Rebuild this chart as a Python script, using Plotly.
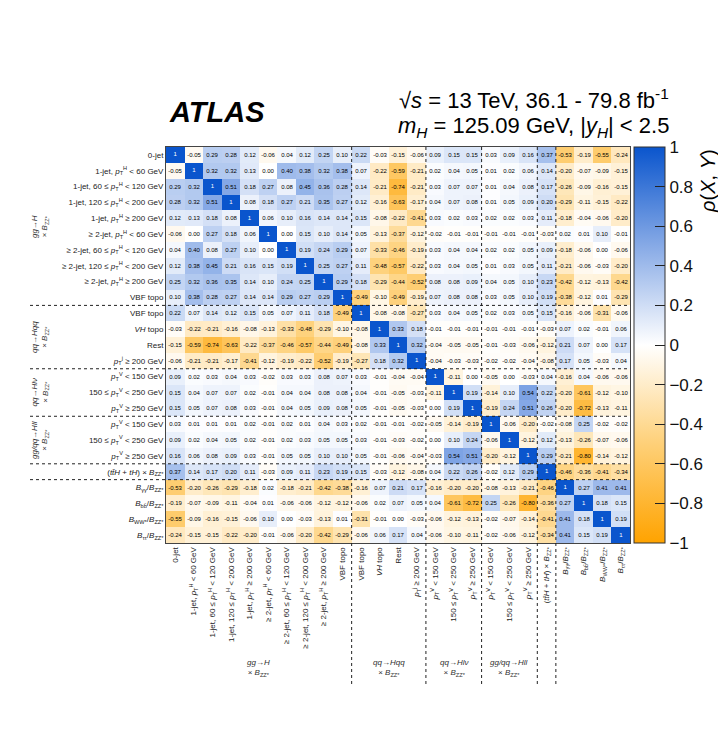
import plotly.graph_objects as go

pt = "<i>p</i><sub>T</sub>"
Bzz = "<i>B</i><sub>ZZ*</sub>"
labels = [
    "0-jet",
    f"1-jet, {pt}<sup>H</sup> < 60 GeV",
    f"1-jet, 60 ≤ {pt}<sup>H</sup> < 120 GeV",
    f"1-jet, 120 ≤ {pt}<sup>H</sup> < 200 GeV",
    f"1-jet, {pt}<sup>H</sup> ≥ 200 GeV",
    f"≥ 2-jet, {pt}<sup>H</sup> < 60 GeV",
    f"≥ 2-jet, 60 ≤ {pt}<sup>H</sup> < 120 GeV",
    f"≥ 2-jet, 120 ≤ {pt}<sup>H</sup> < 200 GeV",
    f"≥ 2-jet, {pt}<sup>H</sup> ≥ 200 GeV",
    "VBF topo",
    "VBF topo",
    "<i>VH</i> topo",
    "Rest",
    f"{pt}<sup>j</sup> ≥ 200 GeV",
    f"{pt}<sup>V</sup> < 150 GeV",
    f"150 ≤ {pt}<sup>V</sup> < 250 GeV",
    f"{pt}<sup>V</sup> ≥ 250 GeV",
    f"{pt}<sup>V</sup> < 150 GeV",
    f"150 ≤ {pt}<sup>V</sup> < 250 GeV",
    f"{pt}<sup>V</sup> ≥ 250 GeV",
    f"(<i>tt\u0304H</i> + <i>tH</i>) × {Bzz}",
    f"<i>B</i><sub>γγ</sub>/{Bzz}",
    f"<i>B</i><sub>bb\u0304</sub>/{Bzz}",
    f"<i>B</i><sub>WW*</sub>/{Bzz}",
    f"<i>B</i><sub>ττ</sub>/{Bzz}",
]

corr = [
    [1, -0.05, 0.29, 0.28, 0.12, -0.06, 0.04, 0.12, 0.25, 0.10, 0.22, -0.03, -0.15, -0.06, 0.09, 0.15, 0.15, 0.03, 0.09, 0.16, 0.37, -0.53, -0.19, -0.55, -0.24],
    [-0.05, 1, 0.32, 0.32, 0.13, 0.00, 0.40, 0.38, 0.32, 0.38, 0.07, -0.22, -0.59, -0.21, 0.02, 0.04, 0.05, 0.01, 0.02, 0.06, 0.14, -0.20, -0.07, -0.09, -0.15],
    [0.29, 0.32, 1, 0.51, 0.18, 0.27, 0.08, 0.45, 0.36, 0.28, 0.14, -0.21, -0.74, -0.21, 0.03, 0.07, 0.07, 0.01, 0.04, 0.08, 0.17, -0.26, -0.09, -0.16, -0.15],
    [0.28, 0.32, 0.51, 1, 0.08, 0.18, 0.27, 0.21, 0.35, 0.27, 0.12, -0.16, -0.63, -0.17, 0.04, 0.07, 0.08, 0.01, 0.05, 0.09, 0.20, -0.29, -0.11, -0.15, -0.22],
    [0.12, 0.13, 0.18, 0.08, 1, 0.06, 0.10, 0.16, 0.14, 0.14, 0.15, -0.08, -0.22, -0.41, 0.03, 0.02, 0.03, 0.02, 0.02, 0.03, 0.11, -0.18, -0.04, -0.06, -0.20],
    [-0.06, 0.00, 0.27, 0.18, 0.06, 1, 0.00, 0.15, 0.10, 0.14, 0.05, -0.13, -0.37, -0.12, -0.02, -0.01, -0.01, -0.01, -0.01, -0.01, -0.03, 0.02, 0.01, 0.10, -0.01],
    [0.04, 0.40, 0.08, 0.27, 0.10, 0.00, 1, 0.19, 0.24, 0.29, 0.07, -0.33, -0.46, -0.19, 0.03, 0.04, 0.04, 0.02, 0.02, 0.05, 0.09, -0.18, -0.06, 0.00, -0.06],
    [0.12, 0.38, 0.45, 0.21, 0.16, 0.15, 0.19, 1, 0.25, 0.27, 0.11, -0.48, -0.57, -0.22, 0.03, 0.04, 0.05, 0.01, 0.03, 0.05, 0.11, -0.21, -0.06, -0.03, -0.20],
    [0.25, 0.32, 0.36, 0.35, 0.14, 0.10, 0.24, 0.25, 1, 0.29, 0.18, -0.29, -0.44, -0.52, 0.08, 0.08, 0.09, 0.04, 0.05, 0.10, 0.23, -0.42, -0.12, -0.13, -0.42],
    [0.10, 0.38, 0.28, 0.27, 0.14, 0.14, 0.29, 0.27, 0.29, 1, -0.49, -0.10, -0.49, -0.19, 0.07, 0.08, 0.08, 0.03, 0.05, 0.10, 0.19, -0.38, -0.12, 0.01, -0.29],
    [0.22, 0.07, 0.14, 0.12, 0.15, 0.05, 0.07, 0.11, 0.18, -0.49, 1, -0.08, -0.08, -0.27, 0.03, 0.04, 0.05, 0.02, 0.03, 0.05, 0.15, -0.16, -0.06, -0.31, -0.06],
    [-0.03, -0.22, -0.21, -0.16, -0.08, -0.13, -0.33, -0.48, -0.29, -0.10, -0.08, 1, 0.33, 0.18, -0.01, -0.01, -0.01, -0.01, -0.01, -0.01, -0.03, 0.07, 0.02, -0.01, 0.06],
    [-0.15, -0.59, -0.74, -0.63, -0.22, -0.37, -0.46, -0.57, -0.44, -0.49, -0.08, 0.33, 1, 0.32, -0.04, -0.05, -0.05, -0.01, -0.03, -0.06, -0.12, 0.21, 0.07, 0.00, 0.17],
    [-0.06, -0.21, -0.21, -0.17, -0.41, -0.12, -0.19, -0.22, -0.52, -0.19, -0.27, 0.18, 0.32, 1, -0.04, -0.03, -0.03, -0.02, -0.02, -0.04, -0.08, 0.17, 0.05, -0.03, 0.04],
    [0.09, 0.02, 0.03, 0.04, 0.03, -0.02, 0.03, 0.03, 0.08, 0.07, 0.03, -0.01, -0.04, -0.04, 1, -0.11, 0.00, -0.05, 0.00, -0.03, 0.04, -0.16, 0.04, -0.06, -0.06],
    [0.15, 0.04, 0.07, 0.07, 0.02, -0.01, 0.04, 0.04, 0.08, 0.08, 0.04, -0.01, -0.05, -0.03, -0.11, 1, 0.19, -0.14, 0.10, 0.54, 0.22, -0.20, -0.61, -0.12, -0.10],
    [0.15, 0.05, 0.07, 0.08, 0.03, -0.01, 0.04, 0.05, 0.09, 0.08, 0.05, -0.01, -0.05, -0.03, 0.00, 0.19, 1, -0.19, 0.24, 0.51, 0.26, -0.20, -0.72, -0.13, -0.11],
    [0.03, 0.01, 0.01, 0.01, 0.02, -0.01, 0.02, 0.01, 0.04, 0.03, 0.02, -0.01, -0.01, -0.02, -0.05, -0.14, -0.19, 1, -0.06, -0.20, -0.02, -0.08, 0.25, -0.02, -0.02],
    [0.09, 0.02, 0.04, 0.05, 0.02, -0.01, 0.02, 0.03, 0.05, 0.05, 0.03, -0.01, -0.03, -0.02, 0.00, 0.10, 0.24, -0.06, 1, -0.12, 0.12, -0.13, -0.26, -0.07, -0.06],
    [0.16, 0.06, 0.08, 0.09, 0.03, -0.01, 0.05, 0.05, 0.10, 0.10, 0.05, -0.01, -0.06, -0.04, -0.03, 0.54, 0.51, -0.20, -0.12, 1, 0.29, -0.21, -0.80, -0.14, -0.12],
    [0.37, 0.14, 0.17, 0.20, 0.11, -0.03, 0.09, 0.11, 0.23, 0.19, 0.15, -0.03, -0.12, -0.08, 0.04, 0.22, 0.26, -0.02, 0.12, 0.29, 1, -0.46, -0.36, -0.41, -0.34],
    [-0.53, -0.20, -0.26, -0.29, -0.18, 0.02, -0.18, -0.21, -0.42, -0.38, -0.16, 0.07, 0.21, 0.17, -0.16, -0.20, -0.20, -0.08, -0.13, -0.21, -0.46, 1, 0.27, 0.41, 0.41],
    [-0.19, -0.07, -0.09, -0.11, -0.04, 0.01, -0.06, -0.06, -0.12, -0.12, -0.06, 0.02, 0.07, 0.05, 0.04, -0.61, -0.72, 0.25, -0.26, -0.80, -0.36, 0.27, 1, 0.18, 0.15],
    [-0.55, -0.09, -0.16, -0.15, -0.06, 0.10, 0.00, -0.03, -0.13, 0.01, -0.31, -0.01, 0.00, -0.03, -0.06, -0.12, -0.13, -0.02, -0.07, -0.14, -0.41, 0.41, 0.18, 1, 0.19],
    [-0.24, -0.15, -0.15, -0.22, -0.20, -0.01, -0.06, -0.20, -0.42, -0.29, -0.06, 0.06, 0.17, 0.04, -0.06, -0.10, -0.11, -0.02, -0.06, -0.12, -0.34, 0.41, 0.15, 0.19, 1],
]

# group boundaries (index after which a dotted separator is drawn)
group_ends = [9, 13, 16, 19, 20]
group_names = [
    ("<i>gg→H</i>", 0, 9),
    ("<i>qq→Hqq</i>", 10, 13),
    ("<i>qq→Hlν</i>", 14, 16),
    ("<i>gg/qq→Hll</i>", 17, 19),
]
cb_vals = [1, 0.8, 0.6, 0.4, 0.2, 0, -0.2, -0.4, -0.6, -0.8, -1]

n = len(labels)
idx = list(range(n))
text = [["" if i == j else f"{corr[i][j]:.2f}" for j in range(n)] for i in range(n)]

colorscale = [
    [0.0, "rgb(255,163,0)"],
    [0.25, "rgb(254,208,120)"],
    [0.5, "rgb(255,255,255)"],
    [0.75, "rgb(135,170,230)"],
    [1.0, "rgb(10,85,205)"],
]

FONT = "Liberation Sans, Arial, Helvetica, sans-serif"

# pixel geometry helpers
W, H = 718, 749
ML, MR, MT, MB = 166, 4, 147, 206
PW = W - ML - MR          # paper width in px
PH = H - MT - MB          # paper height in px
PLOT_W = 471              # heatmap width in px


def px(xpix):
    return (xpix - ML) / PW


def py(ypix):
    return (H - MB - ypix) / PH


fig = go.Figure()
fig.add_trace(go.Heatmap(
    z=corr, x=idx, y=idx, text=text, texttemplate="%{text}",
    textfont=dict(size=6, color="black", family=FONT),
    colorscale=colorscale, zmin=-1, zmax=1, xgap=0, ygap=0,
    colorbar=dict(
        x=px(ML + PLOT_W + 4), xanchor="left", xpad=0, y=0.5, yanchor="middle",
        len=1.0, lenmode="fraction", thickness=31, ypad=0,
        outlinewidth=1, outlinecolor="#333",
        tickvals=cb_vals, ticktext=[("−" + str(abs(v))) if v < 0 else str(v) for v in cb_vals],
        ticks="inside", ticklen=10, tickwidth=1, tickcolor="#222",
        tickfont=dict(size=17, family=FONT, color="#111"),
    ),
    hoverinfo="skip",
))
fig.add_trace(go.Scatter(
    x=idx, y=idx, mode="text", text=["1"] * n,
    textfont=dict(size=6, color="white", family=FONT),
    hoverinfo="skip", showlegend=False,
))

axis_common = dict(
    tickmode="array", tickvals=idx, ticktext=labels,
    tickfont=dict(size=8, family=FONT, color="#222"),
    showgrid=False, zeroline=False, showline=True, linecolor="#444",
    linewidth=1, mirror=True, ticks="",
)
fig.update_layout(
    width=W, height=H,
    margin=dict(l=ML, r=MR, t=MT, b=MB),
    plot_bgcolor="white", paper_bgcolor="white",
    xaxis=dict(**axis_common, tickangle=-90, domain=[0, PLOT_W / PW], range=[-0.5, n - 0.5]),
    yaxis=dict(**axis_common, range=[n - 0.5, -0.5]),
    showlegend=False,
)

shapes = []
for g in group_ends:
    b = g + 0.5
    shapes.append(dict(type="line", xref="x", yref="paper", x0=b, x1=b, y0=1, y1=py(686),
                       line=dict(color="#222", width=1, dash="dot")))
    shapes.append(dict(type="line", xref="paper", yref="y", x0=px(28), x1=PLOT_W / PW, y0=b, y1=b,
                       line=dict(color="#222", width=1, dash="dot")))
fig.update_layout(shapes=shapes)

ann = []
for name, a, b in group_names:
    c = (a + b) / 2
    ann.append(dict(xref="x", yref="paper", x=c, y=py(668), text=f"{name}<br>× {Bzz}",
                    showarrow=False, font=dict(size=8, family=FONT, color="#333"),
                    xanchor="center", yanchor="middle", align="center"))
    ann.append(dict(xref="paper", yref="y", x=px(38), y=c, text=f"{name}<br>× {Bzz}",
                    showarrow=False, textangle=-90, font=dict(size=8, family=FONT, color="#333"),
                    xanchor="center", yanchor="middle", align="center"))

ann.append(dict(xref="paper", yref="paper", x=px(167), y=py(112), text="<b><i>ATLAS</i></b>",
                showarrow=False, xanchor="left", yanchor="middle",
                font=dict(size=29, family=FONT, color="black")))
ann.append(dict(xref="paper", yref="paper", x=px(678), y=py(99),
                text="√<i>s</i> = 13 TeV, 36.1 - 79.8 fb<sup>-1</sup>",
                showarrow=False, xanchor="right", yanchor="middle",
                font=dict(size=22, family=FONT, color="black")))
ann.append(dict(xref="paper", yref="paper", x=px(678), y=py(127),
                text="<i>m</i><sub><i>H</i></sub> = 125.09 GeV, |<i>y</i><sub><i>H</i></sub>| < 2.5",
                showarrow=False, xanchor="right", yanchor="middle",
                font=dict(size=22, family=FONT, color="black")))
ann.append(dict(xref="paper", yref="paper", x=px(716), y=py(147), text="<i>ρ</i>(<i>X</i>, <i>Y</i>)",
                showarrow=False, textangle=-90, xanchor="center", yanchor="top",
                font=dict(size=20, family=FONT, color="black")))
fig.update_layout(annotations=ann)

fig.write_html("out.html")
